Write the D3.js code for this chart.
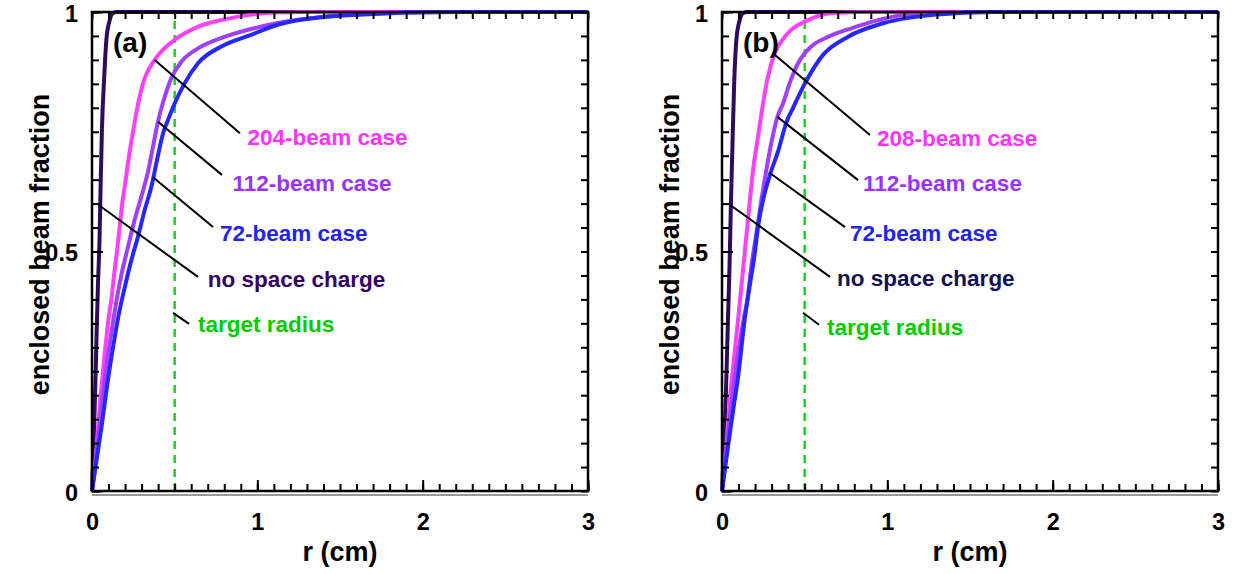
<!DOCTYPE html>
<html>
<head>
<meta charset="utf-8">
<script src="https://cdn.jsdelivr.net/npm/d3@7"></script>
<style>
  body { margin: 0; background: #fff; }
  svg { display: block; }
  text { font-family: "Liberation Sans", Arial, Helvetica, sans-serif; font-weight: bold; }
</style>
</head>
<body>
<svg id="drawing_region"></svg>
<script>
// enclosed beam fraction vs r (cm)
// panel (a)
const noSpaceA = [[0,0],[0.01,0.1],[0.02,0.22],[0.028,0.33],[0.036,0.43],[0.046,0.531],[0.052,0.635],[0.06,0.754],[0.073,0.858],[0.087,0.942],[0.107,0.983],[0.125,0.997],[0.15,1],[3,1]];
const beam204A = [[0,0],[0.018,0.05],[0.05,0.19],[0.075,0.28],[0.101,0.362],[0.117,0.4],[0.133,0.45],[0.151,0.5],[0.167,0.55],[0.183,0.6],[0.204,0.65],[0.224,0.7],[0.248,0.75],[0.274,0.8],[0.308,0.85],[0.379,0.9],[0.41,0.914],[0.45,0.928],[0.5,0.942],[0.64,0.969],[0.78,0.983],[0.95,0.994],[1.1,0.999],[1.3,1],[3,1]];
const beam112A = [[0,0],[0.025,0.075],[0.05,0.15],[0.08,0.24],[0.117,0.33],[0.147,0.395],[0.177,0.45],[0.218,0.51],[0.258,0.566],[0.298,0.614],[0.339,0.667],[0.369,0.719],[0.399,0.771],[0.44,0.823],[0.48,0.862],[0.54,0.896],[0.641,0.924],[0.8,0.948],[0.944,0.963],[1.14,0.978],[1.4,0.99],[1.7,0.997],[2,1],[3,1]];
const beam72A  = [[0,0],[0.03,0.07],[0.06,0.14],[0.1,0.24],[0.137,0.32],[0.157,0.36],[0.198,0.425],[0.238,0.482],[0.278,0.531],[0.319,0.587],[0.359,0.635],[0.389,0.684],[0.43,0.747],[0.46,0.775],[0.5,0.809],[0.56,0.851],[0.641,0.893],[0.782,0.928],[0.944,0.95],[1.14,0.975],[1.54,0.993],[2.2,1],[3,1]];
// panel (b)
const noSpaceB = [[0,0],[0.012,0.09],[0.025,0.22],[0.036,0.357],[0.045,0.461],[0.054,0.601],[0.062,0.705],[0.073,0.844],[0.087,0.942],[0.107,0.983],[0.125,0.997],[0.15,1],[3,1]];
const beam208B = [[0,0],[0.025,0.09],[0.05,0.2],[0.075,0.285],[0.097,0.357],[0.107,0.392],[0.127,0.461],[0.147,0.531],[0.167,0.601],[0.188,0.67],[0.218,0.74],[0.248,0.809],[0.278,0.865],[0.319,0.914],[0.379,0.948],[0.52,0.983],[0.67,0.998],[0.85,1],[3,1]];
const beam112B = [[0,0],[0.028,0.092],[0.075,0.232],[0.13,0.357],[0.153,0.399],[0.177,0.468],[0.208,0.538],[0.238,0.607],[0.268,0.67],[0.298,0.726],[0.335,0.781],[0.369,0.809],[0.409,0.851],[0.46,0.893],[0.54,0.928],[0.641,0.948],[0.782,0.966],[0.944,0.983],[1.1,0.994],[1.5,1],[3,1]];
const beam72B  = [[0,0],[0.036,0.092],[0.07,0.175],[0.095,0.232],[0.137,0.357],[0.167,0.427],[0.198,0.496],[0.218,0.552],[0.248,0.607],[0.29,0.66],[0.34,0.71],[0.39,0.77],[0.43,0.8],[0.5,0.85],[0.61,0.91],[0.76,0.948],[0.98,0.977],[1.28,0.994],[1.64,1],[3,1]];

const targetRadius = 0.5;
const xMajor = [0, 1, 2, 3];
const yMajor = [0, 0.5, 1];

// annotation leaders: from curve point -> to, label at
const notesA = [
  {text: "204-beam case",   color: "#ff33ff", from: [0.379,0.900], to: [0.895,0.747], at: [0.94,0.739]},
  {text: "112-beam case",   color: "#9933ff", from: [0.399,0.771], to: [0.786,0.660], at: [0.85,0.643]},
  {text: "72-beam case",    color: "#2323ee", from: [0.369,0.655], to: [0.732,0.551], at: [0.774,0.539]},
  {text: "no space charge", color: "#330066", from: [0.040,0.597], to: [0.641,0.447], at: [0.70,0.443]},
  {text: "target radius",   color: "#00cc00", from: [0.49,0.372],  to: [0.587,0.349], at: [0.641,0.349]}
];
const notesB = [
  {text: "208-beam case",   color: "#ff33ff", from: [0.315,0.912], to: [0.895,0.743], at: [0.938,0.737]},
  {text: "112-beam case",   color: "#9933ff", from: [0.335,0.781], to: [0.823,0.649], at: [0.853,0.643]},
  {text: "72-beam case",    color: "#2323ee", from: [0.285,0.665], to: [0.744,0.551], at: [0.774,0.539]},
  {text: "no space charge", color: "#111155", from: [0.050,0.597], to: [0.653,0.447], at: [0.696,0.445]},
  {text: "target radius",   color: "#00cc00", from: [0.49,0.372],  to: [0.587,0.347], at: [0.635,0.342]}
];

const width = 1240, height = 574;
const svg = d3.select('#drawing_region').attr('width', width).attr('height', height);

function panel(left, letter, curves, notes) {
  const w = 496, top = 12, h = 479;
  const x = d3.scaleLinear().domain([0, 3]).range([0, w]);
  const y = d3.scaleLinear().domain([0, 1]).range([h, 0]);
  const g = svg.append('g').attr('transform', `translate(${left}, ${top})`);

  // gray shadow line under the bottom edge
  g.append('line').attr('x1', 0).attr('x2', w).attr('y1', h + 4).attr('y2', h + 4)
    .attr('stroke', '#999').attr('stroke-width', 2);

  // target radius
  g.append('line')
    .attr('x1', x(targetRadius)).attr('x2', x(targetRadius))
    .attr('y1', y(0)).attr('y2', y(1))
    .attr('stroke', '#22cc22').attr('stroke-width', 2.5).attr('stroke-dasharray', '8,6');

  // curves
  const line = d3.line().x(d => x(d[0])).y(d => y(d[1])).curve(d3.curveMonotoneX);
  curves.forEach(c => {
    g.append('path').datum(c.data).attr('d', line)
      .attr('fill', 'none').attr('stroke', c.color).attr('stroke-width', 4)
      .attr('stroke-linejoin', 'round');
  });

  // axes, ticks inward
  const styleAxis = sel => {
    sel.select('.domain').remove();
    sel.selectAll('line').attr('stroke', '#000').attr('stroke-width', 2);
    sel.selectAll('text').attr('fill', '#000').style('font-size', '23.5px');
  };
  const xMinor = d3.range(0, 3.001, 0.1);
  const yMinor = d3.range(0, 1.0001, 0.05);
  g.append('g').attr('transform', `translate(0, ${h})`)
    .call(d3.axisBottom(x).tickValues(xMinor).tickSize(-7).tickFormat('')).call(styleAxis);
  g.append('g').attr('transform', `translate(0, ${h})`)
    .call(d3.axisBottom(x).tickValues(xMajor).tickSize(-11).tickPadding(22).tickFormat(d3.format('d'))).call(styleAxis);
  g.append('g')
    .call(d3.axisTop(x).tickValues(xMinor).tickSize(-7).tickFormat('')).call(styleAxis);
  g.append('g')
    .call(d3.axisLeft(y).tickValues(yMinor).tickSize(-7).tickFormat('')).call(styleAxis);
  g.append('g')
    .call(d3.axisLeft(y).tickValues(yMajor).tickSize(-11).tickPadding(14).tickFormat(d => d === 0.5 ? '0.5' : d3.format('d')(d)))
    .call(styleAxis)
    .selectAll('text').attr('dy', '0.4em');
  g.append('g').attr('transform', `translate(${w}, 0)`)
    .call(d3.axisRight(y).tickValues(yMinor).tickSize(-7).tickFormat('')).call(styleAxis);

  // frame
  g.append('rect').attr('x', 0).attr('y', 0).attr('width', w).attr('height', h)
    .attr('fill', 'none').attr('stroke', '#000').attr('stroke-width', 2.5);

  // annotations
  notes.forEach(n => {
    g.append('line')
      .attr('x1', x(n.from[0])).attr('y1', y(n.from[1]))
      .attr('x2', x(n.to[0])).attr('y2', y(n.to[1]))
      .attr('stroke', '#000').attr('stroke-width', 2);
    g.append('text').attr('x', x(n.at[0])).attr('y', y(n.at[1]))
      .attr('dy', '0.36em').attr('fill', n.color).style('font-size', '22.5px').text(n.text);
  });

  g.append('text').attr('x', 21).attr('y', 40).style('font-size', '28px').text(letter);

  // axis titles
  g.append('text').attr('x', w / 2).attr('y', h + 70).attr('text-anchor', 'middle')
    .style('font-size', '27px').text('r (cm)');
  g.append('text').attr('transform', `translate(-43, ${h / 2 - 7}) rotate(-90)`)
    .attr('text-anchor', 'middle').style('font-size', '27px').text('enclosed beam fraction');
}

panel(92, '(a)', [
  {data: noSpaceA, color: '#2e0b5e'},
  {data: beam204A, color: '#ff40ff'},
  {data: beam112A, color: '#a040ff'},
  {data: beam72A,  color: '#2626ff'}
], notesA);

panel(722, '(b)', [
  {data: noSpaceB, color: '#2e0b5e'},
  {data: beam208B, color: '#ff40ff'},
  {data: beam112B, color: '#a040ff'},
  {data: beam72B,  color: '#2626ff'}
], notesB);
</script>
</body>
</html>
